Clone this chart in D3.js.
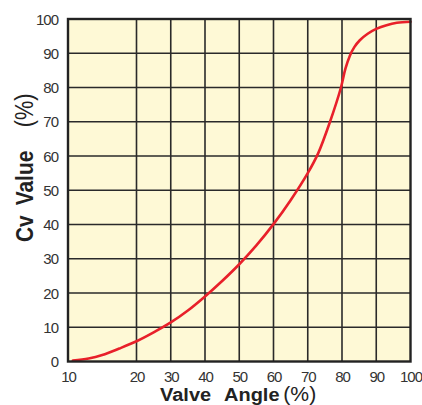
<!DOCTYPE html>
<html><head><meta charset="utf-8">
<script src="https://cdn.jsdelivr.net/npm/d3@7"></script>
<style>body{margin:0;background:#fff}svg{display:block}</style>
</head><body><svg id="c" width="422" height="405"></svg>
<script>
const xTicks = [10,20,30,40,50,60,70,80,90,100];
const yTicks = [0,10,20,30,40,50,60,70,80,90,100];
const angle = [10.7,13,15,17.5,20,25,30,35,40,45,50,55,60,65,70,73,76.5,79.7,81,82.3,83.6,85.2,87.5,90,93,96,100];
const cv    = [0.3,0.9,1.9,3.8,5.9,8.5,11.4,14.9,19,23.5,28.4,33.9,40.1,47.1,55,60.7,70,80,85.5,89.3,91.8,93.8,95.7,97.1,98.2,98.9,99.2];

const svg = d3.select('#c');
const L = 68, R = 410.5, T = 19, B = 361.5;
const u = (R - L) / 10;
const x = d3.scaleLinear().domain([10,20,100]).range([L, L+2*u, R]);
const y = d3.scaleLinear().domain([0,100]).range([B, T]);

svg.append('rect').attr('x',L).attr('y',T).attr('width',R-L).attr('height',B-T).attr('fill','#fef9d6');

const g = svg.append('g');
g.selectAll('.vx').data(xTicks.slice(1,-1)).join('line')
  .attr('x1',d=>x(d)).attr('x2',d=>x(d)).attr('y1',T).attr('y2',B)
  .attr('stroke','#2a2a2a').attr('stroke-width',1.6);
g.selectAll('.hy').data(yTicks.slice(1,-1)).join('line')
  .attr('y1',d=>y(d)).attr('y2',d=>y(d)).attr('x1',L).attr('x2',R)
  .attr('stroke','#2a2a2a').attr('stroke-width',1.6);

const line = d3.line().x(d=>x(d[0])).y(d=>y(d[1])).curve(d3.curveCatmullRom.alpha(0.5));
svg.append('path').datum(angle.map((a,i)=>[a,cv[i]])).attr('d',line)
  .attr('fill','none').attr('stroke','#e8202a').attr('stroke-width',2.6).attr('stroke-linecap','round');

svg.append('rect').attr('x',L).attr('y',T).attr('width',R-L).attr('height',B-T)
  .attr('fill','none').attr('stroke','#222').attr('stroke-width',2.4);

const font = "'Liberation Sans', Arial, sans-serif";
svg.selectAll('.yt').data(yTicks).join('text')
  .attr('x',58).attr('y',d=>y(d)+5.5).attr('text-anchor','end')
  .attr('font-family',font).attr('font-size',15).attr('letter-spacing',-1).attr('fill','#333').text(d=>d);
svg.selectAll('.xt').data(xTicks).join('text')
  .attr('x',d=>x(d)+0.5).attr('y',381.5).attr('text-anchor','middle')
  .attr('font-family',font).attr('font-size',15).attr('letter-spacing',-1).attr('fill','#333').text(d=>d);

const xg = svg.append('g').attr('transform','translate(160,401) scale(1.08,1)')
  .attr('font-family',font).attr('fill','#222');
xg.append('text').attr('x',0).attr('font-size',18.5).attr('font-weight','bold').text('Valve');
xg.append('text').attr('x',59.3).attr('font-size',18.5).attr('font-weight','bold').text('Angle');
xg.append('text').attr('x',114.2).attr('font-size',19.6).attr('font-weight','normal').text('(%)');

const yg = svg.append('g').attr('transform','translate(33,242) rotate(-90) scale(0.87,1)')
  .attr('font-family',font).attr('fill','#222');
yg.append('text').attr('x',0).attr('font-size',24).attr('font-weight','bold').text('Cv');
yg.append('text').attr('x',42.2).attr('font-size',24).attr('font-weight','bold').text('Value');
yg.append('text').attr('x',131.8).attr('font-size',25).attr('font-weight','normal').text('(%)');
</script></body></html>
